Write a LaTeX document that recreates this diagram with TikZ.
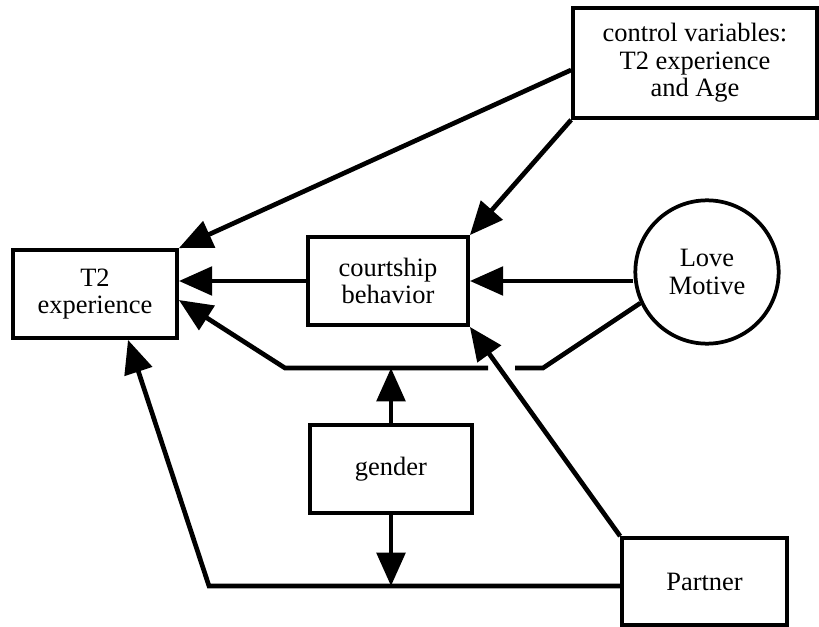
\documentclass[tikz,border=0pt]{standalone}
\usepackage{fontspec}
\setmainfont{Liberation Serif}
\usetikzlibrary{shapes,arrows,arrows.meta}
\usetikzlibrary{positioning}
\usetikzlibrary{calc}
\tikzstyle{var} = [draw, rectangle, line width=3.2pt, align=center, inner sep=0pt,
font=\fontsize{22.6pt}{23.5pt}\selectfont]
\tikzstyle{line} = [draw, line width=4pt, -{Triangle[length=1cm,width=0.85cm]}]

\begin{document}
\begin{tikzpicture}[x=0.03cm, y=-0.03cm,
	motive/.style={var, circle, minimum size=4.3cm}]
	\useasboundingbox (0,0) rectangle (819,627);
	\node [var, minimum width=4.92cm, minimum height=2.64cm] (t2) at (95,294) {T2\\experience};
	\node [var, minimum width=4.8cm, minimum height=2.64cm] (court) at (388,281) {courtship\\behavior};
	\node [motive] (love) at (707,272) {Love\\Motive};
	\node [var, minimum width=7.32cm, minimum height=3.3cm] (ctrl) at (695,63) {control variables:\\T2 experience\\and Age};
	\node [var, minimum width=4.86cm, minimum height=2.64cm] (gender) at (391,469) {gender};
	\node [var, minimum width=4.95cm, minimum height=2.61cm] (partner) at (704.5,581.5) {Partner};
	%% bends and the gap where two paths cross
	\coordinate (lbend) at (543,368);
	\coordinate (lgapR) at (515,368);
	\coordinate (lgapL) at (488,368);
	\coordinate (lcorner) at (285,368);
	\coordinate (pcorner) at (209,586);
	%% Paths
	\path [line] ($(ctrl.west)+(0,7)$) -- (t2.north east);
	\path [line] (ctrl.south west) -- (court.north east);
	\path [line] (court.west) -- (court.west -| t2.east);
	\path [line] (love.west |- court.east) -- (court.east);
	\path [line] (partner.north west) -- (court.south east);
	\draw [line width=4pt] (love.205) -- (lbend) -- (lgapR);
	\path [line] (lgapL) -- (lcorner) -- ($(t2.east)+(0,6)$);
	\path [line] (gender.north) -- (gender.north |- lcorner);
	\path [line] (partner.west |- pcorner) -- (pcorner) -- ($(t2.south)+(33,0)$);
	\path [line] (gender.south) -- (gender.south |- pcorner);
\end{tikzpicture}
\end{document}
